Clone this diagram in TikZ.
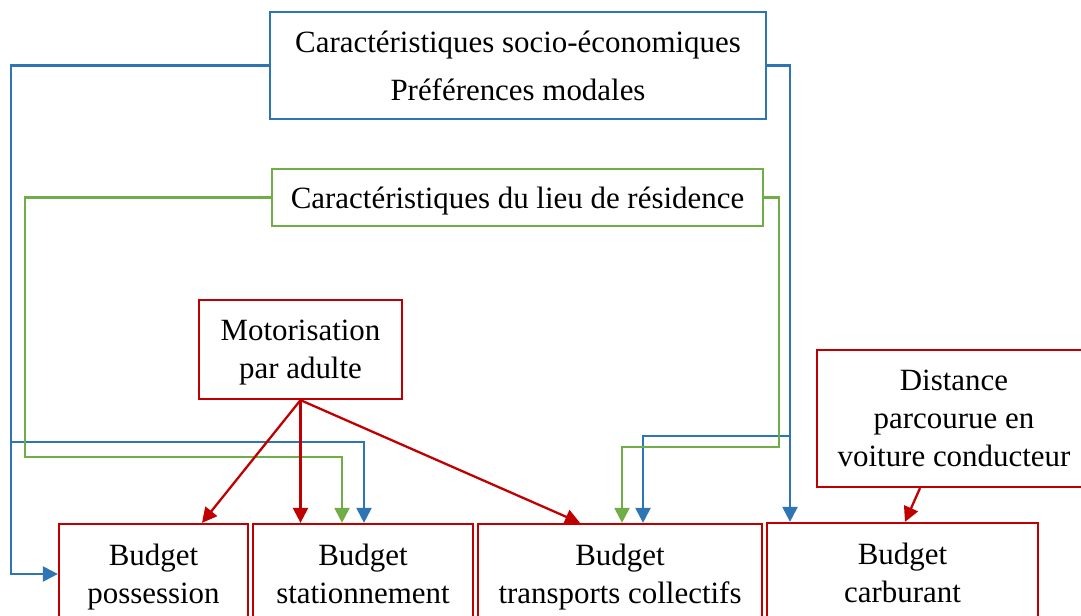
\documentclass[tikz,border=0pt]{standalone}
\usepackage{fontspec}
\setmainfont{Liberation Serif}
\usetikzlibrary{arrows.meta}
\definecolor{bleu}{RGB}{46,117,182}
\definecolor{vert}{RGB}{112,173,71}
\definecolor{rouge}{RGB}{192,0,0}
\begin{document}
\begin{tikzpicture}[x=0.02cm,y=-0.02cm,
  every node/.style={font=\fontsize{17.6}{21.7}\selectfont,align=center,inner sep=0pt,text depth=0pt},
  boite/.style={draw,line width=1.3pt,fill=white},
  fleche/.style={line width=1.3pt,-{Triangle[length=8.5pt,width=8.5pt]}},
  lien/.style={line width=1.3pt}]
\useasboundingbox (0,0) rectangle (1081,615);
\clip (0,0) rectangle (1081,615);
% facteurs
\node[boite,draw=bleu,minimum width=9.92cm,minimum height=2.14cm] (soc) at (518,65.5)
  {Caract\'eristiques socio-\'economiques\\[5.6pt]Pr\'ef\'erences modales};
\node[boite,draw=vert,minimum width=9.82cm,minimum height=1.14cm] (res) at (517.5,197.5)
  {Caract\'eristiques du lieu de r\'esidence};
\node[boite,draw=rouge,minimum width=4.06cm,minimum height=1.98cm] (mot) at (300.5,349.5)
  {Motorisation\\par adulte};
\node[boite,draw=rouge,minimum width=5.48cm,minimum height=2.74cm] (dist) at (954,418.5)
  {Distance\\parcourue en\\voiture conducteur};
% budgets
\node[boite,draw=rouge,minimum width=3.78cm,minimum height=2cm] (poss) at (153.5,574)
  {Budget\\possession};
\node[boite,draw=rouge,minimum width=4.4cm,minimum height=2cm] (stat) at (363,574)
  {Budget\\stationnement};
\node[boite,draw=rouge,minimum width=5.68cm,minimum height=2cm] (tc) at (620,574)
  {Budget\\transports collectifs};
\node[boite,draw=rouge,minimum width=5.42cm,minimum height=2cm] (carb) at (902.5,573)
  {Budget\\carburant};
% points de jonction
\coordinate (bj1) at (11,442);
\coordinate (bj2) at (790,436);
% liens bleus
\draw[lien,bleu] (soc.west) -| (bj1);
\draw[fleche,bleu] (bj1) |- (poss.west);
\draw[fleche,bleu] (bj1) -| (stat.north -| 364,0);
\draw[fleche,bleu] (soc.east) -| (carb.north -| 790,0);
\draw[fleche,bleu] (bj2) -| (tc.north -| 643,0);
% liens verts
\draw[fleche,vert] (res.west) -| (25,457) -| (stat.north -| 342,0);
\draw[fleche,vert] (res.east) -| (779,447) -| (tc.north -| 622,0);
% liens rouges
\draw[fleche,rouge] (mot.south) -- (poss.north -| 202,0);
\draw[fleche,rouge] (mot.south) -- (stat.north -| mot.south);
\draw[fleche,rouge] (mot.south) -- (tc.north -| 580,0);
\draw[fleche,rouge] (dist.south -| 920,0) -- (carb.north -| 905,0);
\end{tikzpicture}
\end{document}
